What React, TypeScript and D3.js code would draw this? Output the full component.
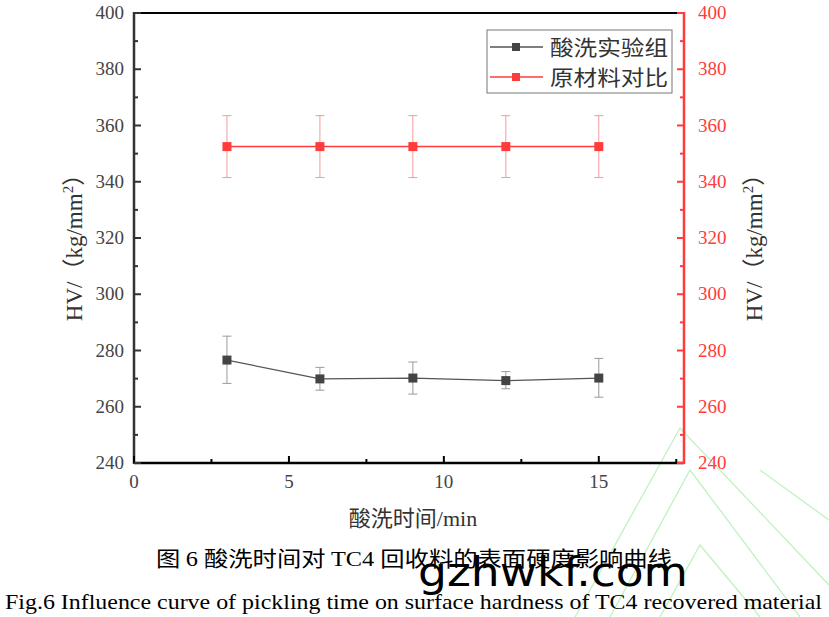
import React from "react";
import * as d3 from "d3";

const times = [3, 6, 9, 12, 15];
const pickled = [276.6, 269.9, 270.2, 269.3, 270.2];
const pickledErrHi = [285.1, 274.0, 275.9, 272.5, 277.2];
const pickledErrLo = [268.3, 265.9, 264.5, 266.4, 263.4];
const raw = [352.5, 352.5, 352.5, 352.5, 352.5];
const rawErrHi = [363.5, 363.5, 363.5, 363.5, 363.5];
const rawErrLo = [341.5, 341.5, 341.5, 341.5, 341.5];
const seriesNames = ["酸洗实验组", "原材料对比"];
const xTicks = [0, 5, 10, 15];
const xMinor = [2.5, 7.5, 12.5, 17.5];
const yTicks = [240, 260, 280, 300, 320, 340, 360, 380, 400];
const yMinor = [250, 270, 290, 310, 330, 350, 370, 390];

const W = 829, H = 617;
const L = 134, R = 684, T = 13, B = 463;
const serif = "Liberation Serif, Times New Roman, Times, serif";
const cjk = "Noto Sans CJK SC, sans-serif";
const RED = "#ff3b3b";

export default function App() {
  const x = d3.scaleLinear().domain([0, 17.75]).range([L, R]);
  const y = d3.scaleLinear().domain([240, 400]).range([B, T]);
  const line = d3.line<number>().x((_, i) => x(times[i])).y((d) => y(d));

  const renderSeries = (vals: number[], hi: number[], lo: number[], lineC: string, errC: string, mk: string, lw: number) => (
    <g>
      {times.map((t, i) => (
        <g key={i} stroke={errC} strokeWidth={1}>
          <line x1={x(t)} x2={x(t)} y1={y(hi[i])} y2={y(lo[i])} />
          <line x1={x(t) - 4.5} x2={x(t) + 4.5} y1={y(hi[i])} y2={y(hi[i])} />
          <line x1={x(t) - 4.5} x2={x(t) + 4.5} y1={y(lo[i])} y2={y(lo[i])} />
        </g>
      ))}
      <path d={line(vals) || ""} fill="none" stroke={lineC} strokeWidth={lw} />
      {times.map((t, i) => (
        <rect key={i} x={x(t) - 4.5} y={y(vals[i]) - 4.5} width={9} height={9} fill={mk} />
      ))}
    </g>
  );

  const yTitle = (tx: number) => (
    <text transform={`translate(${tx},242) rotate(-90)`} textAnchor="middle" fontFamily={serif} fontSize={23} fill="#333">
      HV/<tspan fontFamily={cjk}>（</tspan>kg/mm<tspan dy={-9} fontSize={15}>2</tspan><tspan dy={9} fontFamily={cjk}>）</tspan>
    </text>
  );

  return (
    <div style={{ position: "absolute", left: 0, top: 0 }}>
      <svg width={W} height={H} style={{ display: "block", background: "#fff" }}>
        {/* watermark decoration */}
        <g fill="none" stroke="#bff2c0" strokeWidth={1.3}>
          <polyline points="575,617 680,428 829,585" />
          <polyline points="610,617 690,470 800,617" />
          <polyline points="660,617 700,545 760,617" />
          <polyline points="760,470 829,520" />
        </g>

        {/* axes lines */}
        <line x1={L} x2={R} y1={T} y2={T} stroke="#000" strokeWidth={2} />
        <line x1={L} x2={R} y1={B} y2={B} stroke="#000" strokeWidth={2.5} />
        <line x1={L} x2={L} y1={T - 1} y2={B + 1} stroke="#333" strokeWidth={2.5} />
        <line x1={R} x2={R} y1={T - 1} y2={B + 1} stroke={RED} strokeWidth={2.5} />

        {/* x ticks */}
        {xTicks.map((t) => (
          <g key={t}>
            <line x1={x(t)} x2={x(t)} y1={B} y2={B - 7} stroke="#000" strokeWidth={2} />
            <text x={x(t)} y={B + 25} textAnchor="middle" fontFamily={serif} fontSize={19} fill="#444">{t}</text>
          </g>
        ))}
        {xMinor.map((t) => (
          <line key={t} x1={x(t)} x2={x(t)} y1={B} y2={B - 4} stroke="#000" strokeWidth={2} />
        ))}

        {/* left y ticks */}
        {yTicks.map((t) => (
          <g key={t}>
            <line x1={L} x2={L + 7} y1={y(t)} y2={y(t)} stroke="#333" strokeWidth={2} />
            <text x={L - 10} y={y(t) + 6} textAnchor="end" fontFamily={serif} fontSize={19} fill="#444">{t}</text>
          </g>
        ))}
        {yMinor.map((t) => (
          <line key={t} x1={L} x2={L + 4} y1={y(t)} y2={y(t)} stroke="#333" strokeWidth={2} />
        ))}

        {/* right y ticks */}
        {yTicks.map((t) => (
          <g key={t}>
            <line x1={R} x2={R - 7} y1={y(t)} y2={y(t)} stroke={RED} strokeWidth={2} />
            <text x={R + 14} y={y(t) + 6} textAnchor="start" fontFamily={serif} fontSize={19} fill={RED}>{t}</text>
          </g>
        ))}
        {yMinor.map((t) => (
          <line key={t} x1={R} x2={R - 4} y1={y(t)} y2={y(t)} stroke={RED} strokeWidth={2} />
        ))}

        {/* series */}
        {renderSeries(raw, rawErrHi, rawErrLo, RED, "#f59a9a", RED, 1.5)}
        {renderSeries(pickled, pickledErrHi, pickledErrLo, "#555", "#9a9a9a", "#444", 1.2)}

        {/* legend */}
        <rect x={487} y={30} width={185} height={63} fill="#fff" stroke="#777" strokeWidth={1} />
        {seriesNames.map((n, i) => {
          const cy = 47 + i * 30;
          const c = i === 0 ? "#555" : RED;
          const mk = i === 0 ? "#444" : RED;
          return (
            <g key={n}>
              <line x1={490} x2={543} y1={cy} y2={cy} stroke={c} strokeWidth={1.5} />
              <rect x={512} y={cy - 4} width={8} height={8} fill={mk} />
              <text x={550} y={cy + 8} fontFamily={cjk} fontSize={21} fill="#333" textLength={118} lengthAdjust="spacingAndGlyphs">{n}</text>
            </g>
          );
        })}

        {/* axis titles */}
        {yTitle(82)}
        {yTitle(762)}
        <text x={413} y={526} textAnchor="middle" fontSize={22} fill="#333">
          <tspan fontFamily={cjk}>酸洗时间</tspan><tspan fontFamily={serif}>/min</tspan>
        </text>

        {/* captions */}
        <text x={156} y={566} fontSize={21} fill="#000" textLength={516} lengthAdjust="spacingAndGlyphs">
          <tspan fontFamily={cjk}>图 </tspan><tspan fontFamily={serif}>6  </tspan><tspan fontFamily={cjk}>酸洗时间对 </tspan><tspan fontFamily={serif}>TC4 </tspan><tspan fontFamily={cjk}>回收料的表面硬度影响曲线</tspan>
        </text>
        <text x={418} y={586} fontFamily="DejaVu Sans, sans-serif" fontSize={40} fill="#000" textLength={270} lengthAdjust="spacingAndGlyphs">gzhwkf.com</text>
        <text x={5} y={609} fontFamily={serif} fontSize={21} fill="#000" textLength={817} lengthAdjust="spacingAndGlyphs">
          Fig.6 Influence curve of pickling time on surface hardness of TC4 recovered material
        </text>
      </svg>
    </div>
  );
}
